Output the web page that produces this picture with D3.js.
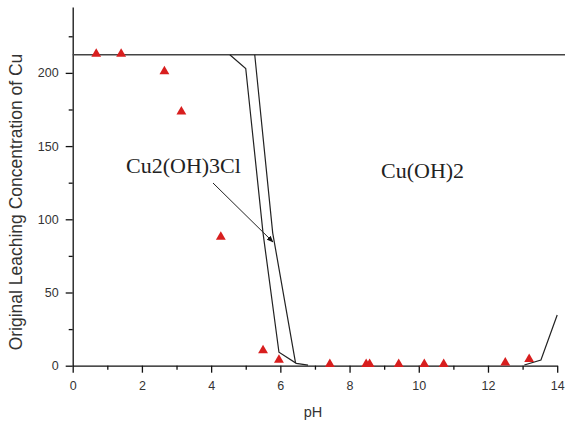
<!DOCTYPE html>
<html>
<head>
<meta charset="utf-8">
<script src="https://cdn.jsdelivr.net/npm/d3@7"></script>
<style>
  body { margin: 0; background: #fff; }
  svg { display: block; }
</style>
</head>
<body>
<svg id="chart" width="565" height="423"></svg>
<script>
// Measured data
const scatterPH   = [0.68, 1.40, 2.65, 3.14, 4.28, 5.50, 5.96, 7.43, 8.48, 8.58, 9.42, 10.16, 10.72, 12.50, 13.19];
const scatterCu   = [213, 213, 201, 173.5, 88, 10.5, 4, 1, 1, 1, 1, 1, 1, 2, 4.5];

const boundary1PH = [4.54, 5.00, 5.50, 5.96, 6.46, 6.80];
const boundary1Cu = [212.4, 203, 90.6, 9.2, 1.6, 0.4];
const boundary2PH = [5.26, 5.78, 6.44];
const boundary2Cu = [212.4, 90.6, 1.8];
const boundary3PH = [13.05, 13.53, 14.0];
const boundary3Cu = [0.5, 3.9, 34.6];

const topLineCu = 212.4;

const xTicks = [0, 2, 4, 6, 8, 10, 12, 14];
const xMinorTicks = [1, 3, 5, 7, 9, 11, 13];
const yTicks = [0, 50, 100, 150, 200];
const yMinorTicks = [25, 75, 125, 175, 225];

const labels = ["Cu2(OH)3Cl", "Cu(OH)2"];
const xTitle = "pH";
const yTitle = "Original Leaching Concentration of Cu";

const svg = d3.select("#chart");
const x = d3.scaleLinear().domain([0, 14]).range([72.7, 557.2]);
const y = d3.scaleLinear().domain([0, 245]).range([365.7, 7]);

// Axes
const xAxis = svg.append("g").attr("transform", `translate(0,${y(0)})`);
xAxis.call(d3.axisBottom(x).tickValues(xTicks).tickSize(7).tickSizeOuter(0).tickPadding(8).tickFormat(d3.format("d")));
xAxis.append("g").call(d3.axisBottom(x).tickValues(xMinorTicks).tickSize(4).tickFormat("")).select(".domain").remove();

const yAxis = svg.append("g").attr("transform", `translate(${x(0)},0)`);
yAxis.call(d3.axisLeft(y).tickValues(yTicks).tickSize(7).tickSizeOuter(0).tickPadding(7).tickFormat(d3.format("d")));
yAxis.append("g").call(d3.axisLeft(y).tickValues(yMinorTicks).tickSize(4).tickFormat("")).select(".domain").remove();

svg.selectAll(".domain").attr("stroke", "#111").attr("stroke-width", 1.3);
svg.selectAll(".tick line").attr("stroke", "#111").attr("stroke-width", 1.3);
svg.selectAll(".tick text")
  .attr("fill", "#333")
  .attr("font-family", "Liberation Sans, Arial, sans-serif")
  .attr("font-size", 12.5);

// Axis titles
svg.append("text")
  .attr("x", 313).attr("y", 417)
  .attr("text-anchor", "middle")
  .attr("font-family", "Liberation Sans, Arial, sans-serif")
  .attr("font-size", 14.5).attr("fill", "#333")
  .text(xTitle);

svg.append("text")
  .attr("transform", `translate(21.5,${202}) rotate(-90)`)
  .attr("text-anchor", "middle")
  .attr("font-family", "Liberation Sans, Arial, sans-serif")
  .attr("font-size", 17.5).attr("fill", "#333")
  .text(yTitle);

// Top horizontal line
svg.append("line")
  .attr("x1", x(0)).attr("x2", 565)
  .attr("y1", y(topLineCu)).attr("y2", y(topLineCu))
  .attr("stroke", "#444").attr("stroke-width", 1.6);

// Boundary lines
const line = d3.line().x(d => x(d[0])).y(d => y(d[1]));
[[boundary1PH, boundary1Cu], [boundary2PH, boundary2Cu], [boundary3PH, boundary3Cu]].forEach(([px, cu]) => {
  svg.append("path")
    .datum(px.map((v, i) => [v, cu[i]]))
    .attr("d", line)
    .attr("fill", "none")
    .attr("stroke", "#222")
    .attr("stroke-width", 1.2);
});

// Scatter
svg.append("g").selectAll("path")
  .data(scatterPH.map((v, i) => [v, scatterCu[i]]))
  .join("path")
  .attr("transform", d => `translate(${x(d[0])},${y(d[1])})`)
  .attr("d", d3.symbol(d3.symbolTriangle, 42))
  .attr("fill", "#d81e1e");

// Labels
svg.append("text")
  .attr("x", 126).attr("y", 173)
  .attr("font-family", "Liberation Serif, Times New Roman, serif")
  .attr("font-size", 22).attr("fill", "#222")
  .text(labels[0]);
svg.append("text")
  .attr("x", 381).attr("y", 178)
  .attr("font-family", "Liberation Serif, Times New Roman, serif")
  .attr("font-size", 22).attr("fill", "#222")
  .text(labels[1]);

// Arrow
svg.append("defs").append("marker")
  .attr("id", "arrow").attr("viewBox", "0 0 10 10")
  .attr("refX", 9).attr("refY", 5)
  .attr("markerWidth", 7).attr("markerHeight", 7)
  .attr("orient", "auto")
  .append("path").attr("d", "M0,1 L10,5 L0,9 Z").attr("fill", "#111");
svg.append("line")
  .attr("x1", 213).attr("y1", 183)
  .attr("x2", 273).attr("y2", 242)
  .attr("stroke", "#222").attr("stroke-width", 1)
  .attr("marker-end", "url(#arrow)");
</script>
</body>
</html>
